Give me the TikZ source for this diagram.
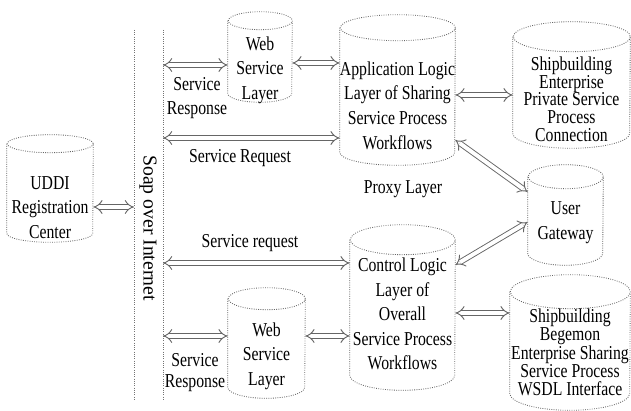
\documentclass[tikz,border=0pt]{standalone}
\usepackage{fontspec}
\usetikzlibrary{arrows.meta}
\setmainfont{Liberation Serif}
\newfontfamily\narrowfont[FakeStretch=0.8]{Liberation Serif}

\begin{document}
\begin{tikzpicture}[x=0.025cm, y=-0.025cm,
  box/.style={draw=none, inner sep=0pt},
  cylline/.style={draw=black!60, densely dotted, line width=0.6pt},
  lbl/.style={font=\fontsize{14}{17.5}\narrowfont, align=center, inner sep=0pt},
  tight/.style={font=\fontsize{14}{12.6}\narrowfont, align=center, inner sep=0pt},
  link/.style={draw=black!60, double=white, double distance=2.8pt, line width=0.65pt, {Implies[scale=1.5]}-{Implies[scale=1.5]}},
  bus/.style={draw=black!55, densely dotted, line width=0.6pt}]

\useasboundingbox (0,0) rectangle (631,411);

% ── Soap bus (two rails) ──
\coordinate (ltop) at (134,30);
\coordinate (lbot) at (134,400);
\coordinate (rtop) at (163,30);
\coordinate (rbot) at (163,400);
\draw[bus] (ltop) -- (lbot);
\draw[bus] (rtop) -- (rbot);
\node[font=\fontsize{14}{17}\selectfont, rotate=-90, inner sep=0pt] (soap) at (148,228) {Soap over Internet};

% ── Cylinder bodies (w x h in px) ──
\node[box, minimum width=2.15cm,  minimum height=2.675cm] (uddi) at (50,188.5) {};
\node[box, minimum width=1.6cm,   minimum height=2.25cm]  (web1) at (260,57) {};
\node[box, minimum width=2.875cm, minimum height=3.75cm]  (app)  at (397.5,90) {};
\node[box, minimum width=2.925cm, minimum height=3.15cm]  (priv) at (571.5,85) {};
\node[box, minimum width=1.875cm, minimum height=2.5cm]   (user) at (565.5,215) {};
\node[box, minimum width=2.625cm, minimum height=4.125cm] (ctrl) at (402.5,307.5) {};
\node[box, minimum width=3.0cm,   minimum height=3.375cm] (bege) at (570,342.5) {};
\node[box, minimum width=1.925cm, minimum height=2.75cm]  (web2) at (266.5,343) {};

% outline: half width / cap radius
\foreach \n/\a/\b in {uddi/43/9, web1/32/9, app/57.5/13, priv/58.5/15,
                      user/37.5/12, ctrl/52.5/15, bege/60/17, web2/38.5/11} {
  \draw[cylline] ([yshift=-\b*0.025cm]\n.north west) -- ([yshift=\b*0.025cm]\n.south west)
    arc[start angle=180, end angle=360, x radius=\a*0.025cm, y radius=\b*0.025cm]
    -- ([yshift=-\b*0.025cm]\n.north east)
    arc[start angle=0, end angle=360, x radius=\a*0.025cm, y radius=\b*0.025cm];
}

% ── Labels ──
\node[lbl] (uddit) at (50,207.5)  {UDDI\\Registration\\Center};
\node[lbl] (web1t) at (260,70)    {Web\\Service\\Layer};
\node[lbl] (appt)  at (397.5,105.5) {Application Logic\\Layer of Sharing\\Service Process\\Workflows};
\node[tight] (privt) at (571.5,99) {Shipbuilding\\Enterprise\\Private Service\\Process\\Connection};
\node[lbl] (usert) at (565.5,222.5) {User\\Gateway};
\node[lbl] (ctrlt) at (402.5,314) {Control Logic\\Layer of\\Overall\\Service Process\\Workflows};
\node[tight] (beget) at (570,352.5) {Shipbuilding\\Begemon\\Enterprise Sharing\\Service Process\\WSDL Interface};
\node[lbl] (web2t) at (266.5,356) {Web\\Service\\Layer};

\node[lbl] (resp1) at (197,98)   {Service\\Response};
\node[lbl] (req1)  at (240,158)  {Service Request};
\node[lbl] (proxy) at (403,189)  {Proxy Layer};
\node[lbl] (req2)  at (250,243)  {Service request};
\node[lbl, font=\fontsize{14}{15}\narrowfont] (resp2) at (195,372.5) {Service\\Response};

% ── Links ──
\draw[link] (uddi.east |- 0,207) -- (ltop |- 0,207);
\draw[link] (rtop |- 0,65)  -- (web1.west |- 0,65);
\draw[link] (web1.east |- 0,63) -- (app.west |- 0,63);
\draw[link] (rtop |- 0,138) -- (app.west |- 0,138);
\draw[link] (app.east |- 0,95) -- (priv.west |- 0,95);
\draw[link] (app.east |- 0,140) -- (user.west |- 0,192);
\draw[link] (rtop |- 0,263) -- (ctrl.west |- 0,263);
\draw[link] (ctrl.east |- 0,265) -- (user.west |- 0,222);
\draw[link] (ctrl.east |- 0,313) -- (bege.west |- 0,313);
\draw[link] (rtop |- 0,336) -- (web2.west |- 0,336);
\draw[link] (web2.east |- 0,336) -- (ctrl.west |- 0,336);

\end{tikzpicture}
\end{document}
